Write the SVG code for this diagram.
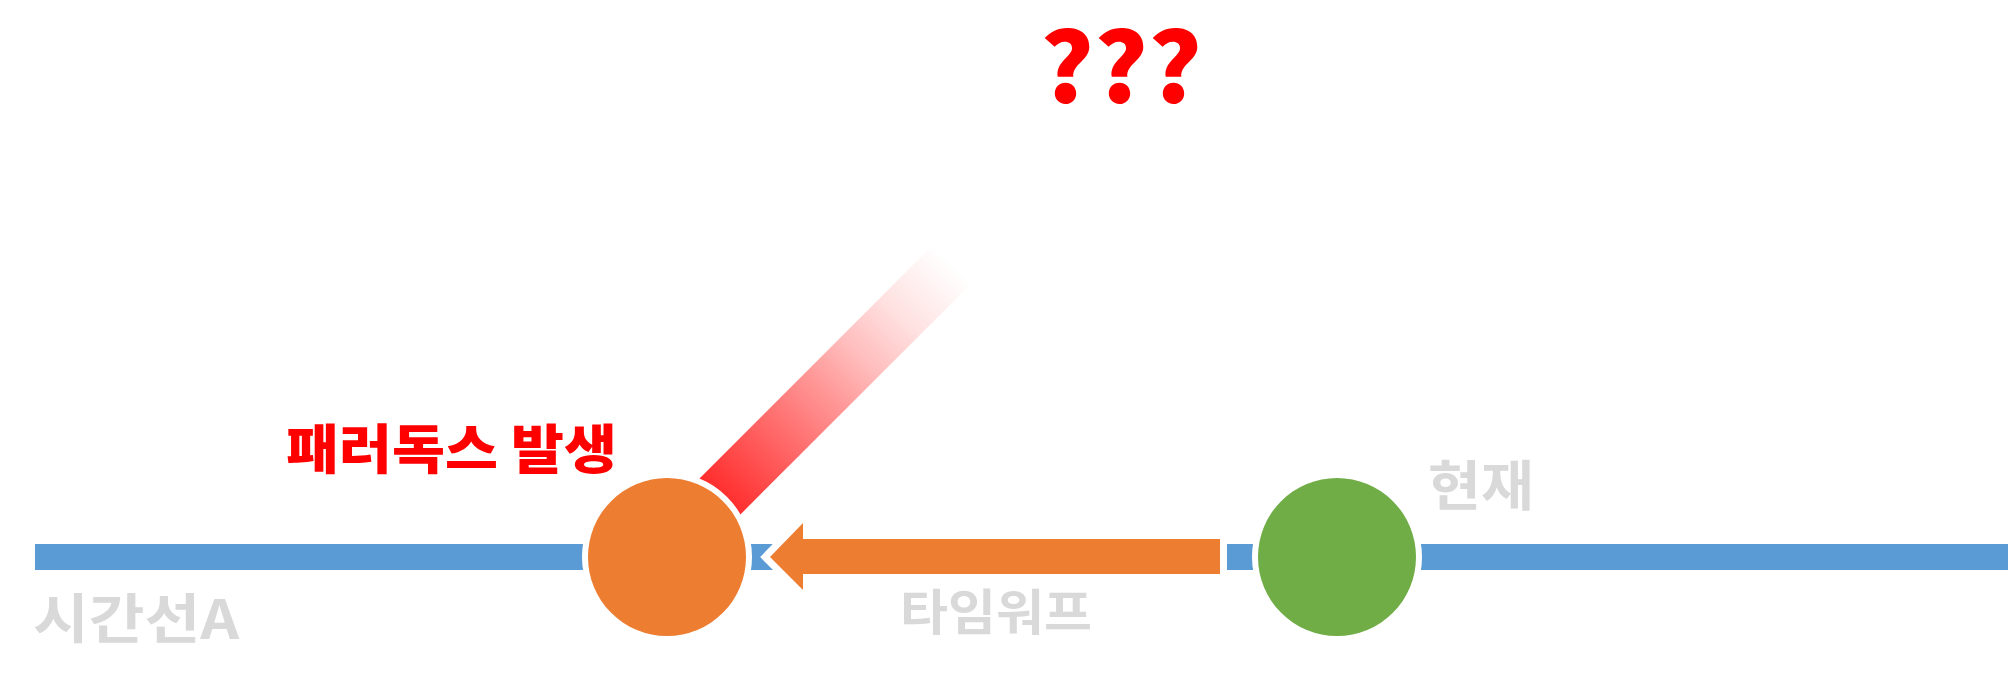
<svg xmlns="http://www.w3.org/2000/svg" width="2015" height="689" viewBox="0 0 2015 689">
  <defs>
    <linearGradient id="fade" gradientUnits="userSpaceOnUse" x1="667" y1="556" x2="955.5" y2="267.5">
      <stop offset="0" stop-color="#FF0000" stop-opacity="1"/>
      <stop offset="0.2" stop-color="#FF0000" stop-opacity="0.82"/>
      <stop offset="0.55" stop-color="#FF0000" stop-opacity="0.42"/>
      <stop offset="0.68" stop-color="#FF0000" stop-opacity="0.26"/>
      <stop offset="0.82" stop-color="#FF0000" stop-opacity="0.12"/>
      <stop offset="1" stop-color="#FF0000" stop-opacity="0"/>
    </linearGradient>
    <style>
      .gray { font-family: "Noto Sans CJK KR", "Noto Sans", sans-serif; font-weight: 700; fill: #D9D9D9; }
      .red { font-family: "Noto Sans CJK KR", "Noto Sans", sans-serif; font-weight: 900; fill: #FF0000; }
      .q { font-family: "Noto Sans CJK KR", "Noto Sans", sans-serif; font-weight: 900; fill: #FF0000; }
      .node { stroke: #FFFFFF; stroke-width: 12; paint-order: stroke fill; }
    </style>
  </defs>
  <rect width="2015" height="689" fill="#FFFFFF"/>

  <g id="connectors">
    <rect id="timeline" x="35" y="544" width="1973" height="26" fill="#5B9BD5"/>
    <polygon id="paradox-beam" points="644.5,533.5 682.9,571.9 971.5,283.5 933,245" fill="url(#fade)"/>
    <polygon id="timewarp-arrow" points="770,557 803,523 803,539 1220,539 1220,574 803,574 803,590" fill="#ED7D31" stroke="#FFFFFF" stroke-width="14" stroke-linejoin="miter" stroke-miterlimit="10" paint-order="stroke fill"/>
  </g>

  <g id="node-paradox">
    <circle class="node" cx="667" cy="557" r="79" fill="#ED7D31"/>
  </g>
  <g id="node-present">
    <circle class="node" cx="1337" cy="557" r="79" fill="#70AD47"/>
  </g>

  <g id="labels">
    <text id="label-paradox" class="red" x="286" y="469" font-size="53" textLength="331" lengthAdjust="spacingAndGlyphs">패러독스 발생</text>
    <text id="label-question" class="q" x="1040" y="103" font-size="96" textLength="162" lengthAdjust="spacingAndGlyphs">???</text>
    <text id="label-timeline" class="gray" x="33" y="639" font-size="54" textLength="206" lengthAdjust="spacingAndGlyphs">시간선A</text>
    <text id="label-timewarp" class="gray" x="900" y="630" font-size="49" textLength="192" lengthAdjust="spacingAndGlyphs">타임워프</text>
    <text id="label-present" class="gray" x="1428" y="506" font-size="54" textLength="106" lengthAdjust="spacingAndGlyphs">현재</text>
  </g>
</svg>
